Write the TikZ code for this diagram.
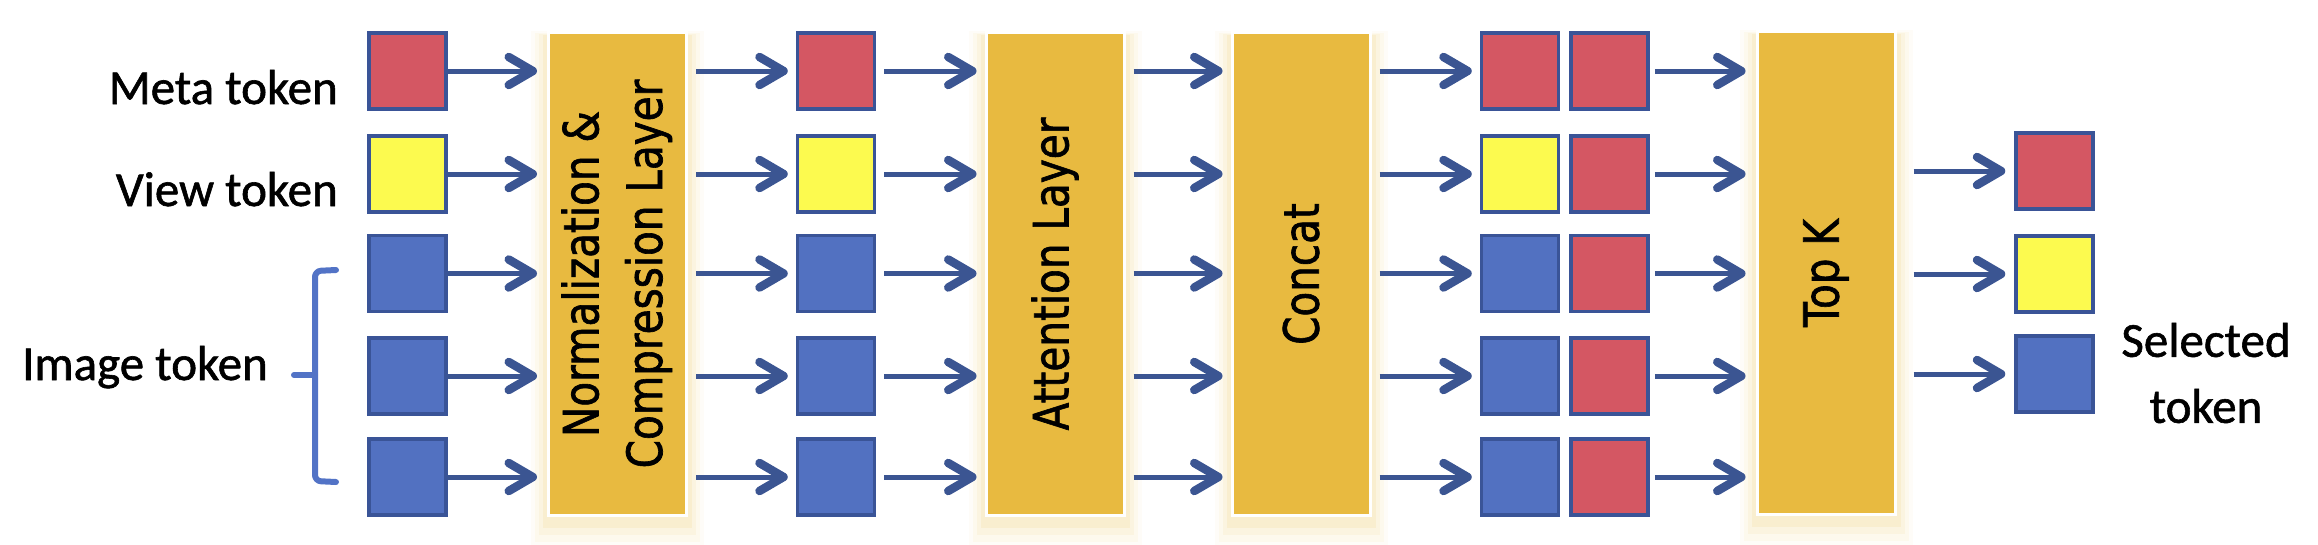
\documentclass[tikz,border=0pt]{standalone}
\usepackage{fontspec}
\usepackage{graphicx}
\setmainfont{Carlito}
\newfontfamily\layerfont{DejaVu Sans}[FakeBold=1.5]
\newfontfamily\lblfont{Carlito}[FakeBold=1.2]
\usetikzlibrary{arrows.meta,backgrounds}
\definecolor{tokred}{HTML}{D45763}
\definecolor{tokyellow}{HTML}{FCFA4F}
\definecolor{tokblue}{HTML}{5271C1}
\definecolor{tokborder}{HTML}{3A5497}
\definecolor{arrowc}{HTML}{3B5592}
\definecolor{gold}{HTML}{E8BA40}
\definecolor{bracec}{HTML}{5273C6}
\begin{document}
\begin{tikzpicture}[x=1pt,y=-1pt,
  tok/.style={draw=tokborder, line width=3.5pt, minimum width=77pt, minimum height=76pt, inner sep=0pt},
  tokR/.style={tok, fill=tokred},
  tokY/.style={tok, fill=tokyellow},
  tokB/.style={tok, fill=tokblue},
  layer/.style={fill=gold, draw=white, line width=3pt, minimum width=138pt, minimum height=483pt, inner sep=0pt,
    font=\layerfont\fontsize{40.5}{53}\selectfont},
  arr/.style={draw=arrowc, line width=5pt, -{Straight Barb[length=24pt, width=28pt, line width=8.5pt, round]},
    shorten >=8pt, shorten <=8pt},
  lbl/.style={font=\lblfont\fontsize{49}{66}\selectfont, inner sep=0pt},
  bracestyle/.style={draw=bracec, line width=6pt, line cap=round, line join=round}
]
\useasboundingbox (0,0) rectangle (2318,544);

% layers
\node[layer] (norm) at (617.5,274) {\rotatebox{90}{\scalebox{1}[1.2]{\begin{tabular}{@{}c@{}}Normalization \&\\Compression Layer\end{tabular}}}};
\node[layer] (att) at (1055,274) {\rotatebox{90}{\scalebox{1}[1.2]{Attention Layer}}};
\node[layer] (concat) at (1301,274) {\rotatebox{90}{\scalebox{1}[1.2]{Concat}}};
\node[layer] (topk) at (1826,273) {\rotatebox{90}{\scalebox{1}[1.2]{Top K}}};

\begin{scope}[on background layer]
\foreach \n in {norm,att,concat,topk}{
  \foreach \d/\b/\t/\o in {16pt/-32pt/0pt/0.04, 12pt/-25pt/-2pt/0.06, 8pt/-18pt/-3pt/0.08, 4pt/-11pt/-4pt/0.1}{
    \fill[gold,opacity=\o] ([xshift=-\d,yshift=\b]\n.south west) rectangle ([xshift=\d,yshift=\t]\n.north east);
  }
}
\end{scope}

% tokens
\node[tokR] (a1) at (407.5,71) {};
\node[tokY] (a2) at (407.5,174) {};
\node[tokB] (a3) at (407.5,273.5) {};
\node[tokB] (a4) at (407.5,376) {};
\node[tokB] (a5) at (407.5,477) {};

\node[tokR] (b1) at (836,71) {};
\node[tokY] (b2) at (836,174) {};
\node[tokB] (b3) at (836,273.5) {};
\node[tokB] (b4) at (836,376) {};
\node[tokB] (b5) at (836,477) {};

\node[tokR] (c1) at (1520,71) {};
\node[tokY] (c2) at (1520,174) {};
\node[tokB] (c3) at (1520,273.5) {};
\node[tokB] (c4) at (1520,376) {};
\node[tokB] (c5) at (1520,477) {};

\node[tokR] (d1) at (1609.5,71) {};
\node[tokR] (d2) at (1609.5,174) {};
\node[tokR] (d3) at (1609.5,273.5) {};
\node[tokR] (d4) at (1609.5,376) {};
\node[tokR] (d5) at (1609.5,477) {};

\node[tokR] (o1) at (2054.5,171) {};
\node[tokY] (o2) at (2054.5,274) {};
\node[tokB] (o3) at (2054.5,374) {};

% arrows
\foreach \i in {1,...,5}{
  \draw[arr, shorten <=0pt, shorten >=10pt] (a\i.east) -- (norm.west |- a\i);
  \draw[arr] (norm.east |- b\i) -- (b\i.west);
  \draw[arr] (b\i.east) -- (att.west |- b\i);
  \draw[arr] (att.east |- c\i) -- (concat.west |- c\i);
  \draw[arr] (concat.east |- c\i) -- (c\i.west);
  \draw[arr, shorten <=5pt, shorten >=10pt] (d\i.east) -- (topk.west |- d\i);
}
\foreach \j in {1,2,3}{
  \draw[arr, shorten <=17pt, shorten >=9pt] (topk.east |- o\j) -- (o\j.west);
}

% labels
\node[lbl, anchor=base east] (lm) at (338,104) {Meta token};
\node[lbl, anchor=base east] (lv) at (338,206) {View token};
\node[lbl, anchor=base east] (li) at (268,380) {Image token};
\node[lbl, align=center] (ls) at (2206,373) {Selected\\token};

% brace
\draw[bracestyle, rounded corners=6pt] (336,270) -- (315,271) -- (315,481) -- (336,482);
\draw[bracestyle] (294,375) -- (315,375);
\end{tikzpicture}
\end{document}
